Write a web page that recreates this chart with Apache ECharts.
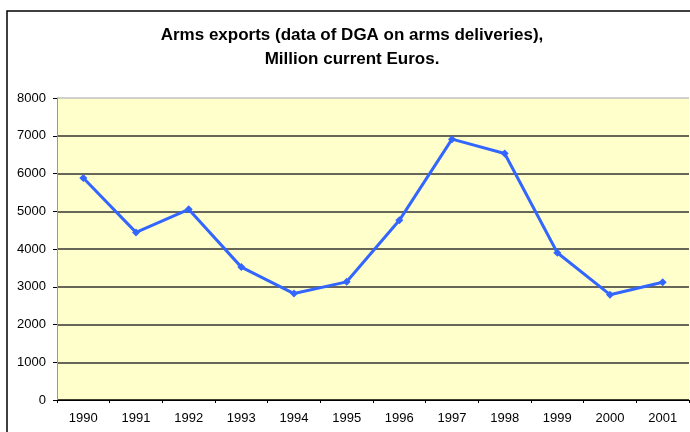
<!DOCTYPE html>
<html>
<head>
<meta charset="utf-8">
<script src="https://cdn.jsdelivr.net/npm/echarts@6/dist/echarts.min.js"></script>
<style>
  html, body { margin: 0; padding: 0; background: #fff; }
  #chart { width: 690px; height: 432px; }
</style>
</head>
<body>
<div id="chart"></div>
<script>
// years and deliveries, million current euros
var years = ['1990', '1991', '1992', '1993', '1994', '1995', '1996', '1997', '1998', '1999', '2000', '2001'];
var exports = [5880, 4440, 5050, 3520, 2820, 3130, 4760, 6910, 6530, 3900, 2790, 3120];
var titleLines = ['Arms exports (data of DGA on arms deliveries),', 'Million current Euros.'];

var chart = echarts.init(document.getElementById('chart'));

var gridLineColors = ['#000', '#333', '#333', '#333', '#333', '#333', '#333', '#333', '#c0c0c0'];

chart.setOption({
    animation: false,
    backgroundColor: '#fff',
    textStyle: { fontFamily: 'Liberation Sans, Arial, sans-serif' },
    title: {
        text: titleLines.join('\n'),
        left: 347,
        top: 18,
        textAlign: 'center',
        textStyle: {
            fontSize: 17,
            fontWeight: 'bold',
            color: '#000',
            lineHeight: 24,
            fontFamily: 'Liberation Sans, Arial, sans-serif'
        }
    },
    graphic: [{
        type: 'rect',
        shape: { x: 7, y: 11, width: 720, height: 460 },
        style: { fill: 'none', stroke: '#000', lineWidth: 1.5 },
        z: 100
    }],
    grid: {
        left: 57,
        top: 98,
        right: 1,
        bottom: 32,
        show: true,
        backgroundColor: '#ffffcc',
        borderWidth: 0
    },
    xAxis: {
        type: 'category',
        data: years,
        boundaryGap: true,
        axisLine: { lineStyle: { color: '#000', width: 1 } },
        axisTick: { show: true, length: 3, lineStyle: { color: '#000' } },
        axisLabel: { color: '#000', fontSize: 13, margin: 12 },
        splitLine: { show: false }
    },
    yAxis: {
        type: 'value',
        min: 0,
        max: 8000,
        interval: 1000,
        axisLine: { show: true, lineStyle: { color: '#999', width: 1 } },
        axisTick: { show: true, length: 4, lineStyle: { color: '#000' } },
        axisLabel: {
            color: '#000',
            fontSize: 13,
            margin: 11,
            formatter: function (v) { return String(v); }
        },
        splitLine: { show: true, lineStyle: { color: gridLineColors, width: 1.5 } }
    },
    series: [{
        type: 'line',
        data: exports,
        symbol: 'diamond',
        symbolSize: 8,
        itemStyle: { color: '#3366ff' },
        lineStyle: { color: '#3366ff', width: 3 }
    }]
});
</script>
</body>
</html>
